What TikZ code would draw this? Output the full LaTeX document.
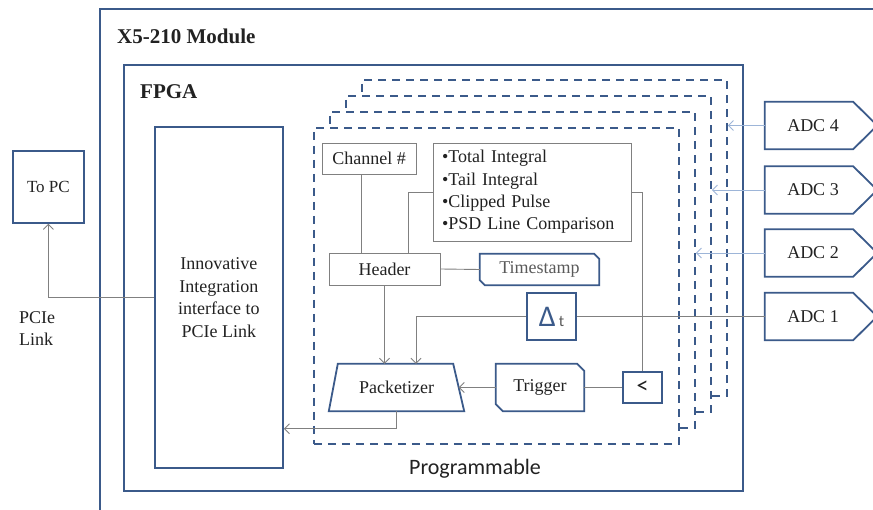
\documentclass[tikz,border=0pt]{standalone}
\usepackage{fontspec}
\setmainfont{Liberation Serif}
\newfontfamily\calib{Carlito}
\usetikzlibrary{arrows.meta}
\definecolor{bl}{HTML}{3B5A8A}
\definecolor{lb}{HTML}{9DB5D8}
\definecolor{gl}{HTML}{808080}
\definecolor{tx}{HTML}{222222}
\begin{document}
\begin{tikzpicture}[x=1pt,y=-1pt,
  every node/.style={inner sep=0pt, text=tx, font=\fontsize{18}{22}\selectfont},
  bbox/.style={draw=bl, line width=1.8pt},
  gbox/.style={draw=gl, line width=0.9pt, fill=white},
  dbox/.style={draw=bl, line width=1.8pt, dash pattern=on 8pt off 6pt, fill=white},
  conn/.style={draw=gl, line width=0.9pt},
  arr/.style={conn, -{Straight Barb[length=5pt,width=10pt]}},
  lbarr/.style={draw=lb, line width=0.9pt, -{Straight Barb[length=5pt,width=10pt]}},
  title/.style={anchor=west, font=\fontsize{21}{21}\selectfont\bfseries}
]
\useasboundingbox (0,0) rectangle (873,510);
\clip (0,0) rectangle (873,510);
\fill[white] (0,0) rectangle (873,510);

% containers
\node[bbox, minimum width=801pt, minimum height=522pt, anchor=north west] (module) at (99,8) {};
\node[title] (mtitle) at (117,36) {X5-210 Module};
\node[bbox, minimum width=619pt, minimum height=426pt, anchor=north west] (fpga) at (123,64) {};
\node[title] (ftitle) at (140,92) {FPGA};

% stacked programmable channels
\foreach \i/\x/\y in {4/361/79,3/345/95,2/329/111,1/313/127}
  \node[dbox, minimum width=365pt, minimum height=316pt, anchor=north west] (d\i) at (\x,\y) {};
\node[font=\calib\fontsize{22}{22}\selectfont] (prog) at (475,469) {Programmable};

% interface and PC
\node[bbox, minimum width=128pt, minimum height=341pt, anchor=north west, align=center,
      font=\fontsize{18}{22.5}\selectfont] (iface) at (154,126) {Innovative\\Integration\\interface to\\PCIe Link};
\node[bbox, minimum width=71pt, minimum height=72pt, anchor=north west,
      font=\fontsize{17}{20}\selectfont] (topc) at (12,150) {To PC};
\node[anchor=west, align=left] (pcie) at (19,328.5) {PCIe\\Link};

% channel blocks
\node[gbox, minimum width=94pt, minimum height=31pt] (chan) at (369,158.5) {Channel \#};
\node[gbox, minimum width=198pt, minimum height=98pt, text width=180pt, inner xsep=9pt,
      align=left, font=\fontsize{18}{22.3}\selectfont] (feat) at (532,192)
  {•Total Integral\\•Tail Integral\\•Clipped Pulse\\•PSD Line Comparison};
\node[gbox, minimum width=111pt, minimum height=32pt] (header) at (384.5,269) {Header};

\node[minimum width=119pt, minimum height=31pt, text=gl!70!black] (ts) at (539.5,269.5) {Timestamp};
\draw[bbox] ([xshift=-5pt]ts.north east) -- ([yshift=-5pt]ts.north east) -- (ts.south east)
  -- ([xshift=5pt]ts.south west) -- ([yshift=5pt]ts.south west) -- (ts.north west) -- cycle;

\node[bbox, fill=white, minimum width=49pt, minimum height=47pt] (dt) at (551.5,316.5)
  {{\calib\fontsize{30}{30}\selectfont\color{bl}Δ}\,{\calib\fontsize{16}{16}\selectfont\color{gl!70!black}t}};

\node[minimum width=135pt, minimum height=47pt] (pack) at (396.5,387.5) {Packetizer};
\draw[bbox] ([xshift=9pt]pack.north west) -- ([xshift=-11pt]pack.north east)
  -- (pack.south east) -- (pack.south west) -- cycle;

\node[minimum width=88pt, minimum height=47pt] (trig) at (540,387.5) {Trigger};
\draw[bbox] ([xshift=-7pt]trig.north east) -- ([yshift=-7pt]trig.north east) -- (trig.south east)
  -- ([xshift=7pt]trig.south west) -- ([yshift=7pt]trig.south west) -- (trig.north west) -- cycle;

\node[bbox, fill=white, minimum width=39pt, minimum height=31pt, font=\calib\fontsize{24}{24}\selectfont] (lt) at (642.5,387.5) {<};

% ADCs
\foreach \i/\y in {4/125.5,3/190,2/253,1/316.5}{
  \node[minimum width=88pt, minimum height=47pt] (adc\i) at (809,\y) {\hspace{8pt}ADC \i};
  \draw[bbox] (adc\i.north west) -- (adc\i.north east) -- ([xshift=24pt]adc\i.east)
    -- (adc\i.south east) -- (adc\i.south west) -- cycle;
}

% connectors
\draw[conn] ([xshift=-8pt]chan.south) -- ([xshift=-8pt]chan.south |- header.north);
\draw[conn] (feat.west) -| ([xshift=24pt]header.north);
\draw[conn] (feat.east) -| (lt.north);
\draw[conn] (header.east) -- (ts.west);
\draw[arr] (header.south) -- (header.south |- pack.north);
\draw[arr] (dt.west) -| ([xshift=19.5pt]pack.north);
\draw[arr] (trig.west) -- ([xshift=-5.5pt]pack.east);
\draw[conn] (lt.west) -- (trig.east);
\draw[arr] (pack.south) |- ([yshift=40pt]iface.south east);
\draw[arr] (iface.west) -| (topc.south);
\draw[conn] (adc1.west) -- (dt.east);
\draw[lbarr] (adc4.west) -- (adc4.west -| d4.east);
\draw[lbarr] (adc3.west) -- (adc3.west -| d3.east);
\draw[lbarr] (adc2.west) -- (adc2.west -| d2.east);
\end{tikzpicture}
\end{document}
